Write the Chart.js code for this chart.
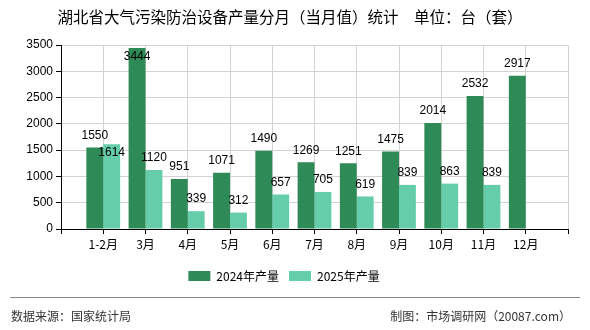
<!DOCTYPE html>
<html>
<head>
<meta charset="utf-8">
<script src="https://cdn.jsdelivr.net/npm/chart.js@4.4.0/dist/chart.umd.min.js"></script>
<style>
  body { margin: 0; background: #fff; }
  #wrap { position: relative; width: 590px; height: 330px; }
  #title { position: absolute; left: 0; top: 5px; width: 580px; text-align: center;
    font: 15.5px "Noto Sans CJK SC", sans-serif; color: #000; }
  #line { position: absolute; left: 10px; top: 297px; width: 570px; height: 1px; background: #888; }
  .foot { position: absolute; top: 307px; font: 12px "Noto Sans CJK SC", sans-serif; color: #333; }
  canvas { position: absolute; left: 0; top: 0; }
</style>
</head>
<body>
<div id="wrap">
  <canvas id="chart" width="590" height="330"></canvas>
  <div id="title">湖北省大气污染防治设备产量分月（当月值）统计　单位：台（套）</div>
  <div id="line"></div>
  <div class="foot" style="left:11px">数据来源：国家统计局</div>
  <div class="foot" style="right:19px">制图：市场调研网（20087.com）</div>
</div>
<script>
var months = ["1-2月", "3月", "4月", "5月", "6月", "7月", "8月", "9月", "10月", "11月", "12月"];
var output2024 = [1550, 3444, 951, 1071, 1490, 1269, 1251, 1475, 2014, 2532, 2917];
var output2025 = [1614, 1120, 339, 312, 657, 705, 619, 839, 863, 839, null];

// empty slot at each end so the first/last months sit on grid lines like the original
var labels = [""].concat(months, [""]);
function pad(arr) { return [null].concat(arr, [null]); }

// value labels above bars, second series pushed down if it would hit the first
var valueLabels = {
    id: 'valueLabels',
    afterDatasetsDraw: function(chart) {
        var ctx = chart.ctx;
        var top = chart.chartArea.top;
        ctx.save();
        ctx.font = '12px "Liberation Sans", Arial, sans-serif';
        ctx.fillStyle = '#000';
        ctx.textAlign = 'center';
        ctx.textBaseline = 'middle';
        var m0 = chart.getDatasetMeta(0), m1 = chart.getDatasetMeta(1);
        var d0 = chart.data.datasets[0].data, d1 = chart.data.datasets[1].data;
        for (var j = 0; j < d0.length; j++) {
            var y0 = null;
            if (d0[j] != null) {
                y0 = Math.max(m0.data[j].y - 12, top + 12);
                ctx.fillText(String(d0[j]), m0.data[j].x, y0);
            }
            if (d1[j] != null) {
                var y1 = Math.max(m1.data[j].y - 12, top + 12);
                if (y0 !== null && Math.abs(y1 - y0) < 14) y1 = y0 + 17;
                ctx.fillText(String(d1[j]), m1.data[j].x, y1);
            }
        }
        ctx.restore();
    }
};

var ctx = document.getElementById('chart').getContext('2d');
var chart = new Chart(ctx, {
    type: 'bar',
    data: {
        labels: labels,
        datasets: [{
            label: "2024年产量",
            backgroundColor: '#2E8B57',
            data: pad(output2024)
        }, {
            label: "2025年产量",
            backgroundColor: '#66CDAA',
            data: pad(output2025)
        }]
    },
    options: {
        responsive: false,
        animation: false,
        layout: { padding: { top: 45, right: 22, bottom: 38, left: 0 } },
        datasets: { bar: { categoryPercentage: 0.8, barPercentage: 1.0 } },
        plugins: {
            tooltip: { enabled: false },
            legend: {
                position: 'bottom',
                labels: {
                    boxWidth: 22, boxHeight: 10, padding: 10,
                    color: '#000',
                    font: { size: 12, family: '"Noto Sans CJK SC", sans-serif' }
                }
            }
        },
        scales: {
            x: {
                offset: false,
                grid: { offset: false, color: '#d3d3d3', tickColor: '#000', tickLength: 5 },
                border: { color: '#000' },
                ticks: { color: '#000', autoSkip: false, maxRotation: 0, padding: 3,
                    font: { size: 12, family: '"Noto Sans CJK SC", sans-serif' } },
                afterFit: function(s) { s.height = 31; }
            },
            y: {
                min: 0, max: 3500,
                grid: { color: '#d3d3d3', tickColor: '#000', tickLength: 5 },
                border: { color: '#000' },
                ticks: { stepSize: 500, color: '#000', padding: 3,
                    callback: function(v) { return String(v); },
                    font: { size: 12, family: '"Liberation Sans", Arial, sans-serif' } },
                afterFit: function(s) { s.width = 61; }
            }
        }
    },
    plugins: [valueLabels]
});
</script>
</body>
</html>
